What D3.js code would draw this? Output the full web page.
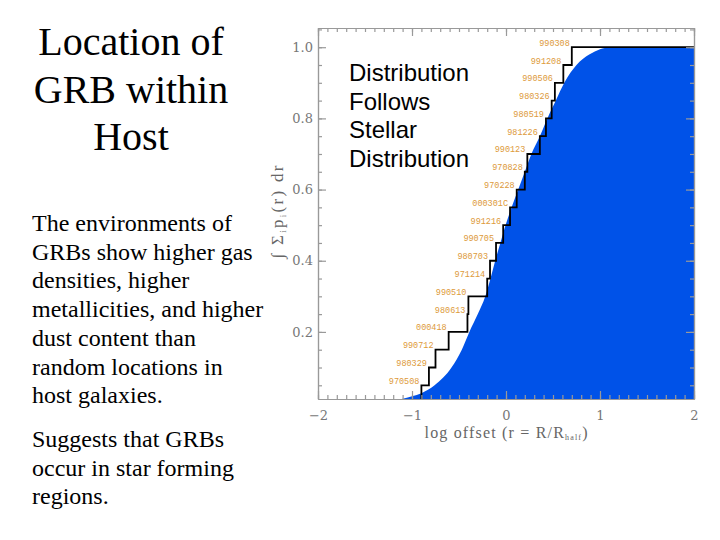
<!DOCTYPE html>
<html>
<head>
<meta charset="utf-8">
<script src="https://cdn.jsdelivr.net/npm/d3@7"></script>
<style>
  body { margin: 0; background: #fff; }
  svg { display: block; }
</style>
</head>
<body>
<svg id="chart"></svg>
<script>
'use strict';

// GRB names, in order of rising cumulative fraction
var grbNames = ['970508', '980329', '990712', '000418', '980613', '990510', '971214', '980703', '990705', '991216',
    '000301C', '970228', '970828', '990123', '981226', '980519', '980326', '990506', '991208', '990308'];
// log offset (r = R/Rhalf) of each burst
var grbOffsets = [-0.90, -0.82, -0.75, -0.61, -0.41, -0.40, -0.20, -0.17, -0.106, -0.03,
    0.043, 0.114, 0.20, 0.227, 0.36, 0.425, 0.486, 0.52, 0.61, 0.70];

// stellar light distribution (blue), log offset vs cumulative fraction
var starLogR = [-1.11, -1.0, -0.90, -0.76, -0.58, -0.47, -0.39, -0.30, -0.22, -0.165, -0.115, -0.06, -0.005,
    0.06, 0.13, 0.20, 0.27, 0.36, 0.44, 0.53, 0.62, 0.75, 0.89, 1.0, 1.1, 2.0];
var starFrac = [0.0115, 0.019, 0.028, 0.05, 0.10, 0.15, 0.20, 0.25, 0.30, 0.35, 0.40, 0.45, 0.50,
    0.55, 0.60, 0.65, 0.70, 0.75, 0.80, 0.85, 0.90, 0.95, 0.98, 0.994, 1.0, 1.0];

var xMajor = [-2, -1, 0, 1, 2];
var yMajor = [0.2, 0.4, 0.6, 0.8, 1.0];

var titleLines = ['Location of', 'GRB within', 'Host'];
var bodyLines = ['The environments of', 'GRBs show higher gas', 'densities, higher', 'metallicities, and higher',
    'dust content than', 'random locations in', 'host galaxies.'];
var bodyLines2 = ['Suggests that GRBs', 'occur in star forming', 'regions.'];
var noteLines = ['Distribution', 'Follows', 'Stellar', 'Distribution'];

function render() {
    var w = 720;
    var h = 540;
    var d3 = window.d3;

    var svg = d3.select('#chart').attr('width', w).attr('height', h);

    var x = d3.scaleLinear().domain([-2, 2]).range([318, 694]);
    var y = d3.scaleLinear().domain([0.0115, 1.054]).range([399, 28]);
    var yMin = y.domain()[0];

    // left hand slide text
    svg.append('g').selectAll('text').data(titleLines).enter().append('text')
        .attr('x', 131).attr('y', function (d, i) { return 55 + i * 47.7; })
        .attr('text-anchor', 'middle')
        .style('font-family', '"Liberation Serif", "Times New Roman", serif')
        .style('font-size', '40px')
        .text(function (d) { return d; });

    svg.append('g').selectAll('text').data(bodyLines).enter().append('text')
        .attr('x', 32).attr('y', function (d, i) { return 231 + i * 28.7; })
        .style('font-family', '"Liberation Serif", "Times New Roman", serif')
        .style('font-size', '24px')
        .text(function (d) { return d; });

    svg.append('g').selectAll('text').data(bodyLines2).enter().append('text')
        .attr('x', 32).attr('y', function (d, i) { return 447.3 + i * 28.4; })
        .style('font-family', '"Liberation Serif", "Times New Roman", serif')
        .style('font-size', '24px')
        .text(function (d) { return d; });

    // stellar distribution
    var starPts = starLogR.map(function (v, i) { return [v, starFrac[i]]; });
    var area = d3.area()
        .x(function (d) { return x(d[0]); })
        .y0(y(yMin))
        .y1(function (d) { return y(d[1]); })
        .curve(d3.curveMonotoneX);
    svg.append('path').datum(starPts).attr('d', area).attr('fill', '#0052e8');

    // GRB step function
    var n = grbNames.length;
    var stepPts = [[grbOffsets[0], yMin]];
    grbOffsets.forEach(function (v, i) { stepPts.push([v, (i + 1) / n]); });
    stepPts.push([2, 1]);
    var step = d3.line()
        .x(function (d) { return x(d[0]); })
        .y(function (d) { return y(d[1]); })
        .curve(d3.curveStepAfter);
    svg.append('path').datum(stepPts).attr('d', step)
        .attr('fill', 'none').attr('stroke', '#000').attr('stroke-width', 1.8);

    svg.append('g').selectAll('text').data(grbNames).enter().append('text')
        .attr('x', function (d, i) { return x(grbOffsets[i]) - 2; })
        .attr('y', function (d, i) { return y((i + 1) / n) - 1.5; })
        .attr('text-anchor', 'end')
        .attr('fill', '#dd9a3a')
        .style('font-family', '"Liberation Mono", "DejaVu Sans Mono", monospace')
        .style('font-size', '8.5px')
        .text(function (d) { return d; });

    // axes
    var xMinor = d3.range(-2, 2.001, 0.1).map(function (v) { return +v.toFixed(1); });
    var yMinor = d3.range(0.05, 1.051, 0.05).map(function (v) { return +v.toFixed(2); });
    var fx = d3.format('d');
    var fy = d3.format('.1f');

    function styleAxis(g) {
        g.selectAll('path, line').attr('stroke', '#999').attr('stroke-width', 1.2);
        g.selectAll('text').attr('fill', '#777')
            .style('font-family', '"DejaVu Serif", serif').style('font-size', '13px');
    }

    svg.append('g').attr('transform', 'translate(0,399)')
        .call(d3.axisBottom(x).tickValues(xMinor).tickSizeInner(-4).tickSizeOuter(0).tickFormat(''))
        .call(styleAxis);
    svg.append('g').attr('transform', 'translate(0,399)')
        .call(d3.axisBottom(x).tickValues(xMajor).tickSizeInner(-8).tickSizeOuter(0).tickPadding(12).tickFormat(fx))
        .call(styleAxis);
    svg.append('g').attr('transform', 'translate(0,28)')
        .call(d3.axisTop(x).tickValues(xMinor).tickSizeInner(-4).tickSizeOuter(0).tickFormat(''))
        .call(styleAxis);
    svg.append('g').attr('transform', 'translate(0,28)')
        .call(d3.axisTop(x).tickValues(xMajor).tickSizeInner(-8).tickSizeOuter(0).tickFormat(''))
        .call(styleAxis);

    svg.append('g').attr('transform', 'translate(318,0)')
        .call(d3.axisLeft(y).tickValues(yMinor).tickSizeInner(-4).tickSizeOuter(0).tickFormat(''))
        .call(styleAxis);
    svg.append('g').attr('transform', 'translate(318,0)')
        .call(d3.axisLeft(y).tickValues(yMajor).tickSizeInner(-8).tickSizeOuter(0).tickPadding(5).tickFormat(fy))
        .call(styleAxis);
    svg.append('g').attr('transform', 'translate(694,0)')
        .call(d3.axisRight(y).tickValues(yMinor).tickSizeInner(-4).tickSizeOuter(0).tickFormat(''))
        .call(styleAxis);
    svg.append('g').attr('transform', 'translate(694,0)')
        .call(d3.axisRight(y).tickValues(yMajor).tickSizeInner(-8).tickSizeOuter(0).tickFormat(''))
        .call(styleAxis);

    // axis titles
    var xl = svg.append('text')
        .attr('x', 506).attr('y', 438).attr('text-anchor', 'middle')
        .attr('fill', '#666')
        .attr('textLength', 163).attr('lengthAdjust', 'spacing')
        .style('font-family', '"Liberation Serif", serif').style('font-size', '16px');
    xl.append('tspan').text('log offset (r = R/R');
    xl.append('tspan').attr('font-size', '8px').attr('dy', 2).text('half');
    xl.append('tspan').attr('dy', -2).text(')');

    var yl = svg.append('text')
        .attr('transform', 'translate(283,212) rotate(-90)')
        .attr('text-anchor', 'middle')
        .attr('fill', '#666')
        .attr('textLength', 93).attr('lengthAdjust', 'spacing')
        .style('font-family', '"Liberation Serif", serif').style('font-size', '17px');
    yl.append('tspan').style('font-style', 'italic').text('\u222B ');
    yl.append('tspan').text('\u03A3');
    yl.append('tspan').attr('font-size', '9px').attr('dy', 3).text('i');
    yl.append('tspan').attr('dy', -3).text('p');
    yl.append('tspan').attr('font-size', '9px').attr('dy', 3).text('i');
    yl.append('tspan').attr('dy', -3).text('(r) dr');

    // note on the chart
    svg.append('g').selectAll('text').data(noteLines).enter().append('text')
        .attr('x', 349).attr('y', function (d, i) { return 81 + i * 28.6; })
        .style('font-family', '"Liberation Sans", Arial, sans-serif')
        .style('font-size', '24px')
        .text(function (d) { return d; });
}

render();
</script>
</body>
</html>
